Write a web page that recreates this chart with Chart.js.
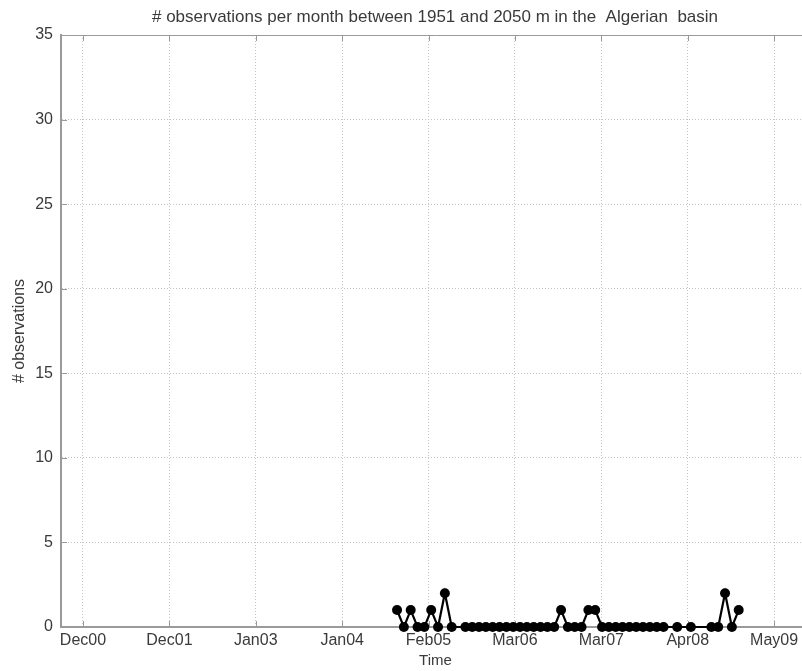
<!DOCTYPE html>
<html>
<head>
<meta charset="utf-8">
<script src="https://cdn.jsdelivr.net/npm/chart.js@4/dist/chart.umd.min.js"></script>
<style>
  html, body { margin: 0; padding: 0; background: #fff; overflow: hidden; }
  #wrap { width: 870px; height: 671px; }
</style>
</head>
<body>
<div id="wrap"><canvas id="c"></canvas></div>
<script>
// Monthly number of observations between 1951 and 2050 m, Algerian basin
const months = [
  '2004-10','2004-11','2004-12','2005-01','2005-02','2005-03','2005-04','2005-05','2005-06',
  '2005-08','2005-09','2005-10','2005-11','2005-12','2006-01','2006-02','2006-03','2006-04',
  '2006-05','2006-06','2006-07','2006-08','2006-09',
  '2006-10','2006-11','2006-12','2007-01','2007-02','2007-03',
  '2007-04','2007-05','2007-06','2007-07','2007-08','2007-09','2007-10','2007-11','2007-12','2008-01',
  '2008-03','2008-05','2008-08','2008-09','2008-10','2008-11','2008-12'
];
const counts = [
  1,0,1,0,0,1,0,2,0,
  0,0,0,0,0,0,0,0,0,
  0,0,0,0,0,
  1,0,0,0,1,1,
  0,0,0,0,0,0,0,0,0,0,
  0,0,0,0,2,0,1
];

// Date axis ticks (decimal years) and their labels
const tickValues = [2000.92, 2001.974, 2003.027, 2004.081, 2005.134, 2006.188, 2007.241, 2008.295, 2009.348];
const tickLabels = ['Dec00','Dec01','Jan03','Jan04','Feb05','Mar06','Mar07','Apr08','May09'];
const yTicks = [0, 5, 10, 15, 20, 25, 30, 35];

const toYear = s => { const [y, m] = s.split('-').map(Number); return y + (m - 1) / 12; };
const points = months.map((m, i) => ({ x: toYear(m), y: counts[i] }));

const FONT = "'Liberation Sans', Arial, sans-serif";
const TEXT = '#3a3a3a';
const AXIS = '#9a9a9a';
const GRID = '#c4c4c4';

// Box on top edge plus inward-pointing tick marks
const frame = {
  id: 'frame',
  beforeDatasetsDraw(chart) {
    const { ctx, chartArea: a, scales: { x, y } } = chart;
    ctx.save();
    ctx.strokeStyle = AXIS;
    ctx.lineWidth = 1;
    ctx.beginPath();
    ctx.moveTo(a.left, a.top + 0.5);
    ctx.lineTo(a.right, a.top + 0.5);
    x.ticks.forEach(t => {
      const px = Math.round(x.getPixelForValue(t.value)) + 0.5;
      ctx.moveTo(px, a.bottom); ctx.lineTo(px, a.bottom - 6);
      ctx.moveTo(px, a.top);    ctx.lineTo(px, a.top + 6);
    });
    y.ticks.forEach(t => {
      const py = Math.round(y.getPixelForValue(t.value)) + 0.5;
      ctx.moveTo(a.left, py); ctx.lineTo(a.left + 6, py);
      ctx.moveTo(a.right, py); ctx.lineTo(a.right - 6, py);
    });
    ctx.stroke();
    ctx.restore();
  }
};

new Chart(document.getElementById('c'), {
  type: 'line',
  data: {
    datasets: [{
      data: points,
      borderColor: '#000',
      backgroundColor: '#000',
      borderWidth: 2.2,
      pointRadius: 5,
      pointHoverRadius: 5,
      pointBackgroundColor: '#000',
      pointBorderColor: '#000',
      pointBorderWidth: 0,
      tension: 0,
      clip: false
    }]
  },
  options: {
    responsive: true,
    maintainAspectRatio: false,
    animation: false,
    events: [],
    layout: { padding: 0 },
    plugins: {
      legend: { display: false },
      tooltip: { enabled: false },
      title: {
        display: true,
        text: '# observations per month between 1951 and 2050 m in the  Algerian  basin',
        color: TEXT,
        font: { family: FONT, size: 17, weight: 'normal', lineHeight: 1.2 },
        padding: { top: 7.5, bottom: 7.1 }
      }
    },
    scales: {
      x: {
        type: 'linear',
        min: 2000.652,
        max: 2009.786,
        afterBuildTicks: s => { s.ticks = tickValues.map(v => ({ value: v })); },
        afterFit: s => { s.height = 44; },
        ticks: {
          autoSkip: false,
          maxRotation: 0,
          color: TEXT,
          padding: 4,
          font: { family: FONT, size: 16 },
          callback: (v, i) => tickLabels[i]
        },
        grid: { color: GRID, drawTicks: false, lineWidth: 1 },
        border: { display: true, color: AXIS, width: 2, dash: [1, 2] },
        title: {
          display: true,
          text: 'Time',
          color: TEXT,
          font: { family: FONT, size: 15 },
          padding: { top: 0, bottom: 1 }
        }
      },
      y: {
        min: 0,
        max: 35,
        afterBuildTicks: s => { s.ticks = yTicks.map(v => ({ value: v })); },
        afterFit: s => { s.width = 61; },
        ticks: {
          color: TEXT,
          padding: 8,
          font: { family: FONT, size: 16 }
        },
        grid: { color: GRID, drawTicks: false, lineWidth: 1 },
        border: { display: true, color: AXIS, width: 2, dash: [1, 2] },
        title: {
          display: true,
          text: '# observations',
          color: TEXT,
          font: { family: FONT, size: 16 },
          padding: { top: 10, bottom: 0 }
        }
      },
      // right-hand margin of the figure (no visible labels)
      yRight: {
        position: 'right',
        min: 0,
        max: 35,
        afterFit: s => { s.width = 60; },
        ticks: { display: false },
        grid: { display: false, drawTicks: false },
        border: { display: false }
      }
    }
  },
  plugins: [frame]
});
</script>
</body>
</html>
